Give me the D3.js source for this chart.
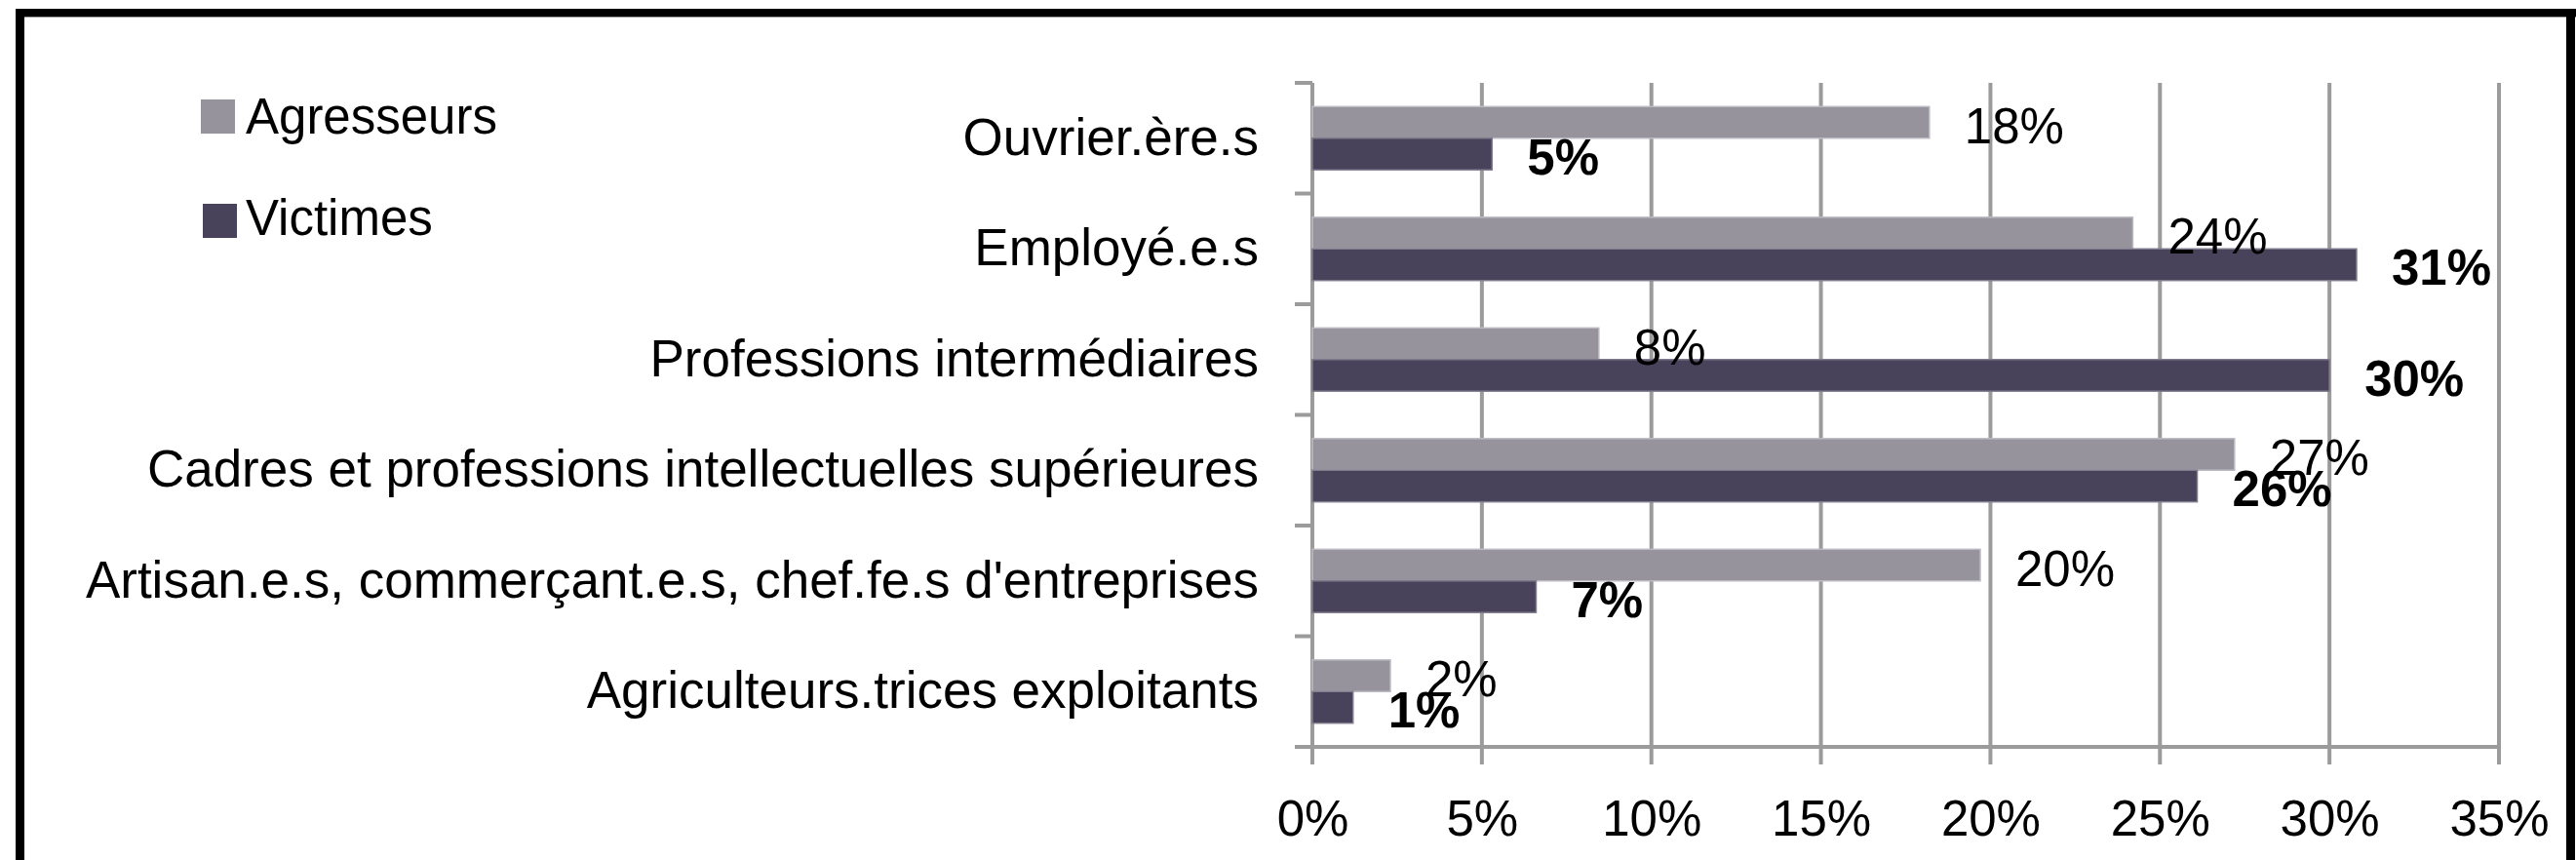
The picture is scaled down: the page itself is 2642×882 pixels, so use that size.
<!DOCTYPE html>
<html>
<head>
<meta charset="utf-8">
<script src="https://cdn.jsdelivr.net/npm/d3@7/dist/d3.min.js"></script>
<style>
  html, body { margin: 0; padding: 0; background: #fff; }
  svg { display: block; }
  text { font-family: "Liberation Sans", Arial, sans-serif; fill: #000; }
</style>
</head>
<body>
<svg id="chart" width="2642" height="882"></svg>
<script>
// ---- Data ----
const categories = [
  "Ouvrier.ère.s",
  "Employé.e.s",
  "Professions intermédiaires",
  "Cadres et professions intellectuelles supérieures",
  "Artisan.e.s, commerçant.e.s, chef.fe.s d'entreprises",
  "Agriculteurs.trices exploitants"
];
const seriesNames = ["Agresseurs", "Victimes"];
const agresseurs = [18.2, 24.2, 8.45, 27.2, 19.7, 2.3];
const victimes = [5.3, 30.8, 30.0, 26.1, 6.6, 1.2];
const xTicks = [0, 5, 10, 15, 20, 25, 30, 35];

// ---- Layout ----
const W = 2642, H = 882;
const plot = { left: 1346, right: 2563, top: 85, bottom: 766 };
const colors = { "Agresseurs": "#96939c", "Victimes": "#48435a" };
const strokes = { "Agresseurs": "#bcbac2", "Victimes": "#7f7b8d" };
const gridColor = "#9b9b9b";
const fontSize = 51;
const catFontSize = 53;

const svg = d3.select("#chart");
svg.append("rect").attr("width", W).attr("height", H).attr("fill", "#fff");

const x = d3.scaleLinear().domain([0, 35]).range([plot.left, plot.right]);
const y = d3.scaleBand().domain(categories).range([plot.top, plot.bottom]).paddingInner(0).paddingOuter(0);
const ySub = d3.scaleBand().domain(seriesNames).range([0, y.bandwidth()]).paddingInner(0).paddingOuter(0.75);

const tickLen = 18;

// gridlines (extend below axis as ticks)
svg.append("g").selectAll("line").data(xTicks).join("line")
  .attr("x1", d => x(d)).attr("x2", d => x(d))
  .attr("y1", plot.top).attr("y2", plot.bottom + tickLen)
  .attr("stroke", gridColor).attr("stroke-width", 4);

// y axis line
svg.append("line")
  .attr("x1", plot.left).attr("x2", plot.left)
  .attr("y1", plot.top).attr("y2", plot.bottom + tickLen)
  .attr("stroke", gridColor).attr("stroke-width", 4);

// y category boundary ticks
const boundaries = categories.map(c => y(c)).concat([y(categories[categories.length - 1]) + y.bandwidth()]);
svg.append("g").selectAll("line").data(boundaries).join("line")
  .attr("x1", plot.left - tickLen).attr("x2", plot.left)
  .attr("y1", d => d).attr("y2", d => d)
  .attr("stroke", gridColor).attr("stroke-width", 4);

// x axis line
svg.append("line")
  .attr("x1", plot.left - tickLen).attr("x2", plot.right)
  .attr("y1", plot.bottom).attr("y2", plot.bottom)
  .attr("stroke", gridColor).attr("stroke-width", 4);

// x tick labels via d3 axis
const xAxis = d3.axisBottom(x).tickValues(xTicks).tickFormat(d => d + "%").tickSize(0);
const gx = svg.append("g").attr("transform", `translate(0,${plot.bottom})`).call(xAxis);
gx.select(".domain").remove();
gx.selectAll("text")
  .attr("y", 91).attr("dy", 0)
  .style("font-family", '"Liberation Sans", Arial, sans-serif')
  .style("font-size", fontSize + "px").attr("fill", "#000");

// category labels
svg.append("g").selectAll("text").data(categories).join("text")
  .attr("x", 1291)
  .attr("y", d => y(d) + y.bandwidth() / 2 + 17)
  .attr("text-anchor", "end")
  .style("font-size", catFontSize + "px")
  .text(d => d);

// bars
const rows = categories.map((c, i) => ({ cat: c, values: [
  { s: "Agresseurs", v: agresseurs[i] },
  { s: "Victimes", v: victimes[i] }
]}));

const gBars = svg.append("g");
rows.forEach(r => {
  r.values.forEach(d => {
    gBars.append("rect")
      .attr("x", x(0))
      .attr("y", y(r.cat) + ySub(d.s))
      .attr("width", x(d.v) - x(0))
      .attr("height", ySub.bandwidth())
      .attr("fill", colors[d.s])
      .attr("stroke", strokes[d.s])
      .attr("stroke-width", 1.5);
  });
});

// value labels
const gLab = svg.append("g");
rows.forEach(r => {
  r.values.forEach(d => {
    gLab.append("text")
      .attr("x", x(d.v) + 36)
      .attr("y", y(r.cat) + ySub(d.s) + ySub.bandwidth() / 2 + 21)
      .style("font-size", fontSize + "px")
      .style("font-weight", d.s === "Victimes" ? "bold" : "normal")
      .text(Math.round(d.v) + "%");
  });
});

// legend
const legend = svg.append("g");
const legendItems = [
  { s: "Agresseurs", sq: [206, 102], tx: [252, 137] },
  { s: "Victimes", sq: [208, 209], tx: [252, 241] }
];
legendItems.forEach(l => {
  legend.append("rect").attr("x", l.sq[0]).attr("y", l.sq[1]).attr("width", 35).attr("height", 35).attr("fill", colors[l.s]);
  legend.append("text").attr("x", l.tx[0]).attr("y", l.tx[1]).style("font-size", fontSize + "px").text(l.s);
});

// frame
svg.append("rect").attr("x", 16).attr("y", 9).attr("width", W - 16).attr("height", 8).attr("fill", "#000");
svg.append("rect").attr("x", 16).attr("y", 17).attr("width", W - 16).attr("height", 1).attr("fill", "#999");
svg.append("rect").attr("x", 16).attr("y", 9).attr("width", 9).attr("height", H - 9).attr("fill", "#000");
svg.append("rect").attr("x", 2632).attr("y", 9).attr("width", 9).attr("height", H - 9).attr("fill", "#000");
</script>
</body>
</html>
